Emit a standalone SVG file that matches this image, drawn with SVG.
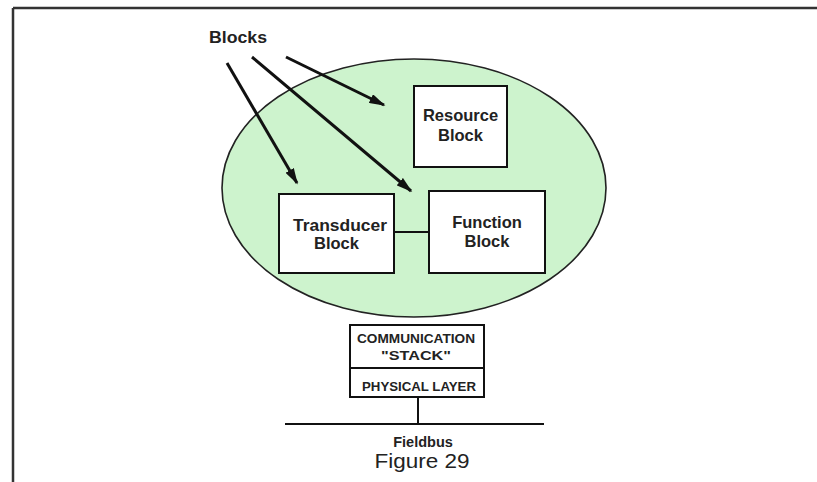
<svg xmlns="http://www.w3.org/2000/svg" width="817" height="482" viewBox="0 0 817 482">
  <defs>
    <marker id="head" viewBox="0 0 10 10" refX="9" refY="5" markerWidth="5.4" markerHeight="3.2" orient="auto" markerUnits="strokeWidth" preserveAspectRatio="none">
      <path d="M0,0 L10,5 L0,10 Z" fill="#111"/>
    </marker>
    <style>
      .box { fill: #ffffff; stroke: #111; stroke-width: 2; }
      .lbl { font-family: "Liberation Sans", Arial, sans-serif; font-weight: bold; fill: #222; text-anchor: middle; }
      .blk { font-size: 16.5px; }
      .stk { font-size: 13px; }
      .wire { stroke: #111; stroke-width: 2; fill: none; }
      .arrow { stroke: #111; stroke-width: 3; fill: none; marker-end: url(#head); }
    </style>
  </defs>

  <rect width="817" height="482" fill="#ffffff"/>

  <!-- page frame (top and left edges) -->
  <g id="frame" stroke="#333" stroke-width="2.5" fill="none">
    <line x1="13" y1="8" x2="817" y2="8"/>
    <line x1="13" y1="8" x2="13" y2="482"/>
  </g>

  <!-- device boundary -->
  <g id="device">
    <ellipse cx="414" cy="188" rx="192" ry="129" fill="#cdf3cd" stroke="#222" stroke-width="1.6"/>
  </g>

  <g id="resource-block">
    <rect class="box" x="414" y="86" width="93" height="81"/>
    <text class="lbl blk" x="460.5" y="121">Resource</text>
    <text class="lbl blk" x="460.5" y="141">Block</text>
  </g>

  <g id="transducer-block">
    <rect class="box" x="279" y="194" width="115" height="79"/>
    <text class="lbl blk" x="340" y="231" textLength="94" lengthAdjust="spacingAndGlyphs">Transducer</text>
    <text class="lbl blk" x="336.5" y="249">Block</text>
  </g>

  <g id="function-block">
    <rect class="box" x="429" y="191" width="116" height="82"/>
    <text class="lbl blk" x="487" y="228">Function</text>
    <text class="lbl blk" x="487" y="247">Block</text>
  </g>

  <g id="comm-stack">
    <rect class="box" x="350" y="325" width="134" height="72"/>
    <line class="wire" x1="350" y1="368" x2="484" y2="368"/>
    <text class="lbl stk" x="416" y="343" textLength="118" lengthAdjust="spacingAndGlyphs">COMMUNICATION</text>
    <text class="lbl stk" x="416" y="360" textLength="70" lengthAdjust="spacingAndGlyphs">"STACK"</text>
    <text class="lbl stk" x="419" y="391" textLength="114" lengthAdjust="spacingAndGlyphs">PHYSICAL LAYER</text>
  </g>

  <g id="blocks-label">
    <text class="lbl" x="238" y="43" font-size="17" textLength="58" lengthAdjust="spacingAndGlyphs">Blocks</text>
  </g>

  <g id="fieldbus-label">
    <text class="lbl" x="423" y="447" font-size="14.5">Fieldbus</text>
  </g>

  <g id="caption">
    <text x="422" y="468" font-family="'Liberation Sans', Arial, sans-serif" font-size="20" fill="#222" text-anchor="middle" textLength="95" lengthAdjust="spacingAndGlyphs">Figure 29</text>
  </g>

  <!-- connectors -->
  <g id="connectors">
    <line class="wire" x1="394" y1="232" x2="429" y2="232"/>
    <line class="wire" x1="418" y1="397" x2="418" y2="424"/>
    <line class="wire" x1="285" y1="424" x2="544" y2="424"/>
    <line class="arrow" x1="227" y1="63" x2="297" y2="183"/>
    <line class="arrow" x1="252" y1="57" x2="411" y2="191"/>
    <line class="arrow" x1="286" y1="57" x2="384" y2="105"/>
  </g>
</svg>
